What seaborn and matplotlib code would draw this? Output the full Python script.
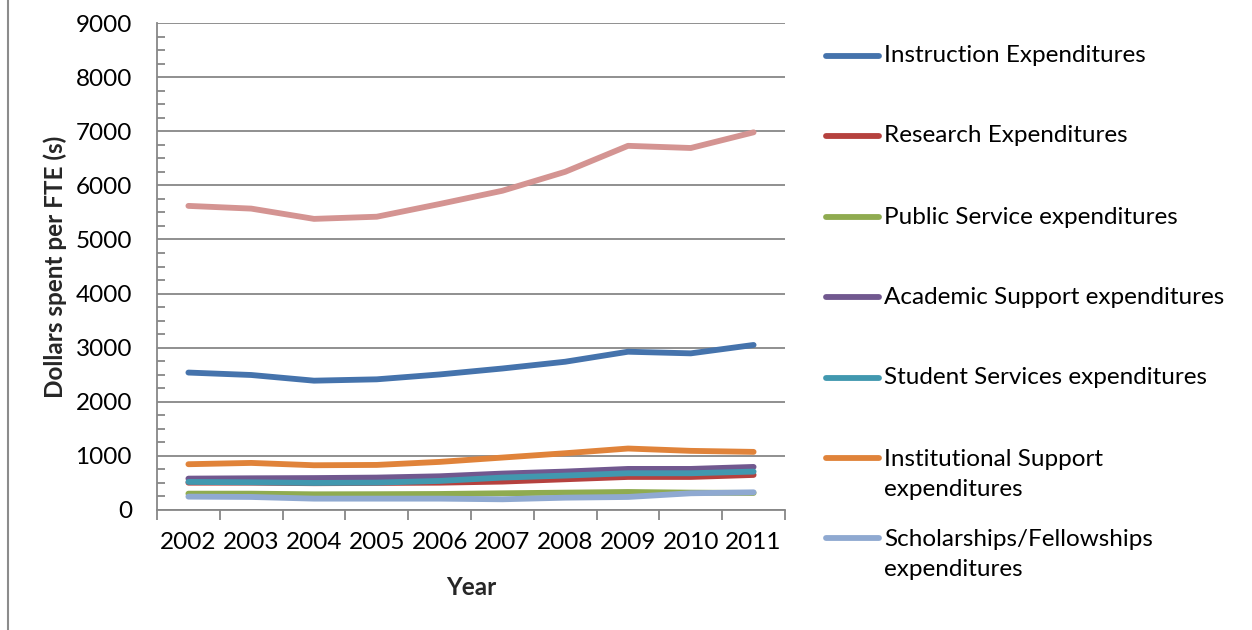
import matplotlib
matplotlib.use("Agg")
import matplotlib.pyplot as plt
from matplotlib.lines import Line2D
from matplotlib.ticker import MultipleLocator, FixedLocator
import numpy as np
import pandas as pd
import seaborn as sns

# ---- data -------------------------------------------------------------
years = ["2002", "2003", "2004", "2005", "2006", "2007", "2008", "2009", "2010", "2011"]

instruction = [2540, 2495, 2390, 2415, 2505, 2615, 2740, 2925, 2895, 3050]
research = [505, 505, 495, 500, 505, 525, 568, 611, 611, 648]
public_service = [302, 302, 290, 292, 296, 309, 321, 333, 321, 315]
academic_support = [580, 586, 590, 599, 623, 673, 710, 759, 759, 796]
student_services = [519, 512, 500, 506, 537, 599, 636, 679, 679, 710]
institutional_support = [846, 870, 827, 833, 889, 969, 1049, 1136, 1093, 1074]
scholarships = [247, 241, 210, 210, 210, 198, 228, 241, 309, 327]
total = [5620, 5570, 5380, 5420, 5655, 5900, 6250, 6730, 6690, 6980]

series_names = [
    "Instruction Expenditures",
    "Research Expenditures",
    "Public Service expenditures",
    "Academic Support expenditures",
    "Student Services expenditures",
    "Institutional Support\nexpenditures",
    "Scholarships/Fellowships\nexpenditures",
    "Total Expenditures",
]
series_values = [instruction, research, public_service, academic_support,
                 student_services, institutional_support, scholarships, total]
series_colors = ["#4573AC", "#B5413E", "#8FAB50", "#71588F",
                 "#4198AF", "#E0833A", "#8FA9D1", "#D49492"]
legend_count = 7  # the legend lists the first seven series

# ---- long-form table ----------------------------------------------------
rows = []
for name, vals in zip(series_names, series_values):
    for i, (yr, v) in enumerate(zip(years, vals)):
        rows.append({"pos": i, "Year": yr, "series": name, "value": v})
df = pd.DataFrame(rows)

# ---- figure -------------------------------------------------------------
sns.set_style("white")
plt.rcParams["font.family"] = ["Lato", "DejaVu Sans"]

FS = 17.5
W, H = 1252, 630
fig = plt.figure(figsize=(W / 100, H / 100), dpi=100)
ax = fig.add_axes([157 / W, 1 - 510 / H, (785 - 157) / W, (510 - 23) / H])

grid_col = "#878787"
ax.yaxis.grid(True, color=grid_col, linewidth=1.3, zorder=0)
ax.set_axisbelow(True)

sns.lineplot(data=df, x="pos", y="value", hue="series", hue_order=series_names,
             palette=dict(zip(series_names, series_colors)), linewidth=4.2,
             legend=False, sort=False, ax=ax, solid_capstyle="round",
             solid_joinstyle="round", estimator=None)

ax.set_xlim(-0.5, len(years) - 0.5)
ax.set_ylim(0, 9000)

# y axis: labelled majors pointing out, unlabelled minors pointing in
ax.yaxis.set_major_locator(MultipleLocator(1000))
ax.yaxis.set_minor_locator(MultipleLocator(250))
ax.tick_params(axis="y", which="major", direction="out", length=10, width=1.3,
               color=grid_col, labelsize=FS, pad=8, labelcolor="black")
ax.tick_params(axis="y", which="minor", direction="in", length=6, width=1.3,
               color=grid_col, left=True)

# x axis: category labels centred, tick marks at category boundaries
ax.set_xticks(range(len(years)))
ax.set_xticklabels(years)
ax.xaxis.set_minor_locator(FixedLocator(np.arange(-0.5, len(years), 1.0)))
ax.tick_params(axis="x", which="major", length=0, labelsize=FS, pad=16,
               labelcolor="black")
ax.tick_params(axis="x", which="minor", direction="out", length=7, width=1.3,
               color=grid_col, bottom=True)

for side in ("top", "right"):
    ax.spines[side].set_visible(False)
for side in ("left", "bottom"):
    ax.spines[side].set_color(grid_col)
    ax.spines[side].set_linewidth(1.3)

ax.set_xlabel("Year", fontsize=FS, fontweight="bold")
ax.set_ylabel("Dollars spent per FTE (s)", fontsize=FS, fontweight="bold")
ax.yaxis.set_label_coords(-0.143, 0.5)
ax.xaxis.set_label_coords(0.5, -0.135)

# ---- legend ----------------------------------------------------------------
entry_y = [56, 136, 217, 297, 378, 458, 538]
line_gap = 33
for name, col, yp in zip(series_names[:legend_count], series_colors, entry_y):
    fig.add_artist(Line2D([826 / W, 879 / W], [1 - yp / H, 1 - yp / H],
                          color=col, linewidth=4.2, solid_capstyle="round"))
    n_lines = name.count("\n") + 1
    yc = yp + (n_lines - 1) * line_gap / 2
    fig.text(884 / W, 1 - yc / H, name, fontsize=FS, va="center", ha="left",
             color="black", linespacing=1.55)

# chart-area border on the left
fig.add_artist(Line2D([8 / W, 8 / W], [0, 1], color="#8C8C8C", linewidth=1.5))

fig.savefig("out.png", dpi=100, facecolor="white")
